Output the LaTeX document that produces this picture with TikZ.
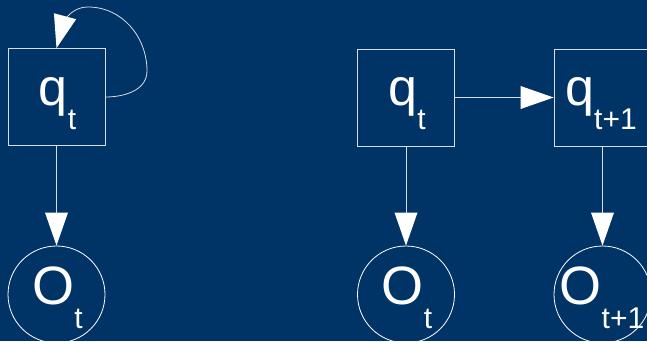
\documentclass[tikz,border=0pt]{standalone}
\usepackage{fontspec}
\setmainfont{Liberation Sans}
\usetikzlibrary{arrows.meta}
\definecolor{bg}{HTML}{003366}
\definecolor{edge}{HTML}{D8DEE6}
% symbol with a lowered subscript
\newcommand\symlbl[3]{\fontsize{#3}{#3}\selectfont #1\raisebox{-24pt}{\fontsize{30}{30}\selectfont #2}}
\begin{document}
\begin{tikzpicture}[x=1pt,y=1pt,
  state/.style={draw=edge, line width=0.8pt, minimum size=97pt, inner sep=0pt},
  obs/.style={circle, draw=white, line width=0.8pt, minimum size=97pt, inner sep=0pt},
  lbl/.style={text=white, anchor=base, inner sep=0pt},
  link/.style={draw=edge, line width=0.8pt,
    -{Triangle[length=33pt,width=23pt,fill=white,line width=0pt]}},
]
\fill[bg] (0,0) rectangle (647,341);
\useasboundingbox (0,0) rectangle (647,341);

% single-slice model with self transition
\node[state] (qL) at (56.5,244) {};
\node[obs]   (oL) at (56.5,46.5) {};
\node[lbl] (qLt) at (57.5,236) {\symlbl{q}{t}{52}};
\node[lbl] (oLt) at (57.5,37) {\symlbl{O}{t}{54}};
\draw[link] (qL) -- (oL);
\coordinate (loopR) at (147,270);
\coordinate (loopT) at (88,334);
\draw[link] (qL.east) to[out=0,in=-90] (loopR) to[out=90,in=0] (loopT)
  to[out=180,in=75] (qL.north);

% unrolled model, two slices
\node[state] (qA) at (406,243.5) {};
\node[state] (qB) at (602.5,243.5) {};
\node[obs]   (oA) at (406,46.5) {};
\node[obs]   (oB) at (602.5,46.5) {};
\node[lbl] (qAt) at (407,236) {\symlbl{q}{t}{52}};
\node[lbl] (qBt) at (601,236) {\symlbl{q}{t+1}{52}};
\node[lbl] (oAt) at (407,37) {\symlbl{O}{t}{54}};
\node[lbl] (oBt) at (602,37) {\symlbl{O}{t+1}{54}};
\draw[link] (qA) -- (qB);
\draw[link] (qA) -- (oA);
\draw[link] (qB) -- (oB);
\end{tikzpicture}
\end{document}
